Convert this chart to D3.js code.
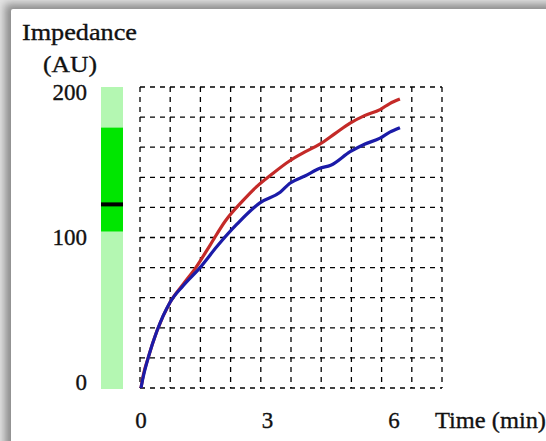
<!DOCTYPE html>
<html>
<head>
<meta charset="utf-8">
<script src="https://cdn.jsdelivr.net/npm/d3@7"></script>
<style>
  body { margin: 0; background: #e4e4e4; }
  svg { display: block; }
  text { font-family: "Liberation Serif", "Times New Roman", serif; fill: #111; stroke: #111; stroke-width: 0.35; }
</style>
</head>
<body>
<svg width="546" height="441"></svg>
<script>
// readings: time in minutes, impedance in AU
var redTime  = [0, 0.05, 0.17, 0.38, 0.69, 1.0, 1.3, 1.64, 2.0, 2.4, 2.75, 3.1, 3.53, 3.9, 4.24, 4.6, 4.96, 5.3, 5.67, 5.9, 6.14],
    redImp   = [0, 8, 20, 38, 57, 69, 80, 95, 111, 124, 134, 142, 151, 157, 162, 169, 176, 181, 185, 189, 192];
var blueTime = [0, 0.05, 0.17, 0.38, 0.69, 1.0, 1.4, 1.8, 2.28, 2.82, 3.3, 3.53, 3.9, 4.24, 4.5, 4.96, 5.3, 5.67, 5.9, 6.14],
    blueImp  = [0, 7, 20, 38, 57, 68, 80, 94, 109, 123, 130, 136, 141, 146, 148, 157, 162, 166, 170, 173];
var xTicks = [0, 3, 6],
    yTicks = [0, 100, 200];
// reference band on the left: full range, normal range, marker
var bandFull = [0, 200],
    bandNormal = [104, 173],
    bandMark = 122;

var svg = d3.select("svg");

// panel with a soft shadow on top/left
var defs = svg.append("defs");
var f = defs.append("filter").attr("id", "shadow")
    .attr("x", "-10%").attr("y", "-10%").attr("width", "130%").attr("height", "130%");
f.append("feGaussianBlur").attr("stdDeviation", 4);
svg.append("rect").attr("x", 5).attr("y", 4).attr("width", 600).attr("height", 500)
    .attr("fill", "#8a8a8a").attr("filter", "url(#shadow)");
svg.append("rect").attr("x", 11).attr("y", 9).attr("width", 600).attr("height", 500)
    .attr("rx", 2).attr("fill", "#fff");

var xScale = d3.scaleLinear().domain([0, 6]).range([141, 394]),
    yScale = d3.scaleLinear().domain([0, 200]).range([388, 87]),
    yLabel = d3.scaleLinear().domain([0, 200]).range([382, 92]);

// dashed grid, 10 x 10 cells
var gx = d3.scaleLinear().domain([0, 10]).range([140, 442]),
    gy = d3.scaleLinear().domain([0, 10]).range([388, 87]);
var grid = svg.append("g").attr("stroke", "#000").attr("stroke-width", 1.3)
    .attr("stroke-dasharray", "5,5").attr("fill", "none");
grid.selectAll(".v").data(d3.range(11)).enter().append("line")
    .attr("class", "v")
    .attr("x1", function(d) { return gx(d); }).attr("x2", function(d) { return gx(d); })
    .attr("y1", gy(10)).attr("y2", gy(0));
grid.selectAll(".h").data(d3.range(11)).enter().append("line")
    .attr("class", "h")
    .attr("y1", function(d) { return gy(d); }).attr("y2", function(d) { return gy(d); })
    .attr("x1", gx(0)).attr("x2", gx(10));

// band
var bx = 101, bw = 22;
svg.append("rect").attr("x", bx).attr("width", bw)
    .attr("y", yScale(bandFull[1])).attr("height", yScale(bandFull[0]) - yScale(bandFull[1]) + 1)
    .attr("fill", "#b4f7b2");
svg.append("rect").attr("x", bx).attr("width", bw)
    .attr("y", yScale(bandNormal[1])).attr("height", yScale(bandNormal[0]) - yScale(bandNormal[1]))
    .attr("fill", "#00e600");
svg.append("rect").attr("x", bx).attr("width", bw)
    .attr("y", yScale(bandMark) - 2).attr("height", 4)
    .attr("fill", "#000");

// curves
var line = d3.line()
    .x(function(d) { return xScale(d[0]); })
    .y(function(d) { return yScale(d[1]); })
    .curve(d3.curveMonotoneX);
svg.append("path").datum(d3.zip(redTime, redImp))
    .attr("d", line).attr("fill", "none").attr("stroke", "#c42a28").attr("stroke-width", 3.2);
svg.append("path").datum(d3.zip(blueTime, blueImp))
    .attr("d", line).attr("fill", "none").attr("stroke", "#1b1ba8").attr("stroke-width", 3.2);

// labels
svg.selectAll(".ytick").data(yTicks).enter().append("text")
    .attr("class", "ytick")
    .attr("x", 87).attr("y", function(d) { return yLabel(d); })
    .attr("dy", "0.34em").attr("text-anchor", "end")
    .style("font-size", "23px")
    .text(function(d) { return d; });
svg.selectAll(".xtick").data(xTicks).enter().append("text")
    .attr("class", "xtick")
    .attr("x", function(d) { return xScale(d); }).attr("y", 428)
    .attr("text-anchor", "middle")
    .style("font-size", "23px")
    .text(function(d) { return d; });

svg.append("text").attr("x", 22).attr("y", 40).style("font-size", "24px")
    .attr("textLength", 115).attr("lengthAdjust", "spacingAndGlyphs").text("Impedance");
svg.append("text").attr("x", 43).attr("y", 72).style("font-size", "24px")
    .attr("textLength", 54).attr("lengthAdjust", "spacingAndGlyphs").text("(AU)");
svg.append("text").attr("x", 435).attr("y", 428).style("font-size", "24px")
    .attr("textLength", 111).attr("lengthAdjust", "spacingAndGlyphs").text("Time (min)");
</script>
</body>
</html>
